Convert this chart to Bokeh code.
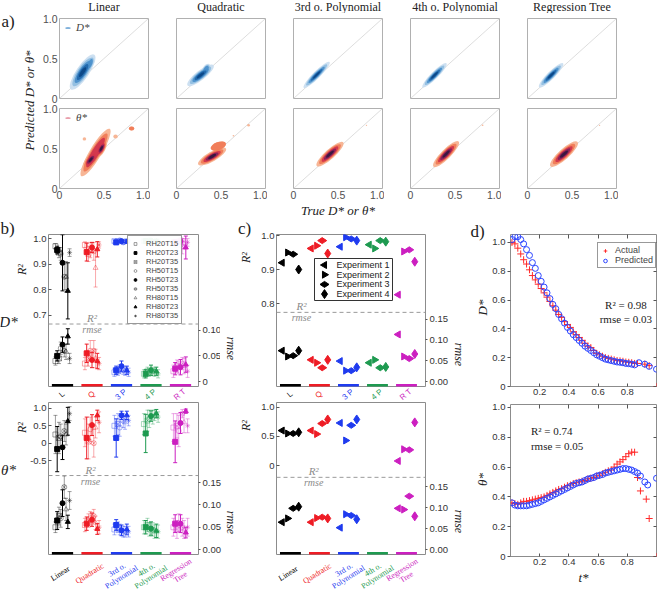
import math
import numpy as np
from bokeh.plotting import figure
from bokeh.models import (Range1d, LinearAxis, FixedTicker, Span, Legend, LegendItem,
                          ColumnDataSource)
from bokeh.layouts import row, column
from bokeh.embed import file_html
from bokeh.resources import INLINE
from bokeh.core.properties import value

SERIF = "Liberation Serif"
SANS = "Liberation Sans"

# ---------------------------------------------------------------- data
methods = ["Linear", "Quadratic", "3rd o. Polynomial", "4th o. Polynomial", "Regression Tree"]
method_short = ["L", "Q", "3 P", "4 P", "R T"]
method_long = ["Linear", "Quadratic", "3rd o.\nPolynomial", "4th o.\nPolynomial", "Regression\nTree"]
method_colors = ["#000000", "#ee1c25", "#1f3bef", "#1e9a50", "#cc1fc0"]

# panel a: density blobs (cx, cy, length, thickness, angle_deg, depth)
dstar_blobs = [
    [(0.26, 0.33, 0.47, 0.16, 56, 5), (0.34, 0.43, 0.20, 0.09, 65, 3)],
    [(0.27, 0.29, 0.37, 0.12, 38, 5), (0.33, 0.36, 0.15, 0.09, 60, 3)],
    [(0.26, 0.295, 0.41, 0.09, 45, 5)],
    [(0.27, 0.29, 0.38, 0.09, 45, 5)],
    [(0.265, 0.29, 0.38, 0.095, 45, 5)],
]
theta_blobs = [
    [(0.405, 0.45, 0.62, 0.15, 59, 3), (0.35, 0.36, 0.24, 0.11, 50, 5), (0.47, 0.50, 0.22, 0.10, 62, 5),
     (0.28, 0.62, 0.04, 0.04, 0, 1), (0.63, 0.65, 0.05, 0.05, 0, 1), (0.81, 0.75, 0.06, 0.05, 0, 2)],
    [(0.40, 0.40, 0.36, 0.12, 30, 5), (0.47, 0.53, 0.18, 0.10, 20, 2),
     (0.64, 0.66, 0.02, 0.02, 0, 1), (0.81, 0.79, 0.03, 0.03, 0, 1)],
    [(0.41, 0.43, 0.40, 0.12, 42, 5), (0.82, 0.79, 0.015, 0.015, 0, 1)],
    [(0.40, 0.43, 0.40, 0.12, 45, 5), (0.81, 0.79, 0.02, 0.02, 0, 1)],
    [(0.41, 0.43, 0.41, 0.13, 42, 5), (0.81, 0.79, 0.015, 0.015, 0, 1)],
]

# panel b: per method (rows) x condition (cols)
conditions = ["RH20T15", "RH20T23", "RH20T35", "RH50T15", "RH50T23", "RH50T35",
              "RH80T15", "RH80T23", "RH80T35"]
dstar_r2 = [
    [0.970, 0.955, 0.945, 0.940, 0.905, 0.850, 0.850, 0.795, 0.945],
    [0.975, 0.947, 0.940, 0.955, 0.965, 0.950, 0.885, 0.958, 0.975],
    [0.990, 0.985, 0.990, 0.993, 0.990, 0.985, 0.990, 0.988, 0.992],
    [0.990, 0.990, 0.992, 0.993, 0.992, 0.988, 0.990, 0.990, 0.993],
    [0.985, 0.985, 0.975, 0.990, 0.990, 0.970, 0.980, 0.965, 0.985],
]
dstar_r2_err = [
    [0.010, 0.015, 0.020, 0.025, 0.110, 0.050, 0.060, 0.110, 0.015],
    [0.012, 0.035, 0.030, 0.030, 0.020, 0.035, 0.075, 0.030, 0.012],
    [0.006, 0.008, 0.006, 0.005, 0.007, 0.008, 0.006, 0.007, 0.005],
    [0.006, 0.007, 0.005, 0.005, 0.006, 0.008, 0.006, 0.007, 0.005],
    [0.010, 0.012, 0.020, 0.010, 0.012, 0.030, 0.020, 0.045, 0.015],
]
dstar_rmse = [
    [0.040, 0.050, 0.045, 0.065, 0.072, 0.060, 0.058, 0.088, 0.045],
    [0.035, 0.055, 0.045, 0.060, 0.042, 0.060, 0.045, 0.040, 0.035],
    [0.018, 0.022, 0.020, 0.025, 0.030, 0.022, 0.020, 0.022, 0.018],
    [0.015, 0.015, 0.020, 0.018, 0.022, 0.020, 0.018, 0.020, 0.015],
    [0.020, 0.025, 0.030, 0.028, 0.028, 0.035, 0.030, 0.033, 0.020],
]
dstar_rmse_err = [
    [0.008, 0.010, 0.010, 0.012, 0.015, 0.012, 0.015, 0.015, 0.010],
    [0.012, 0.018, 0.015, 0.020, 0.015, 0.020, 0.018, 0.015, 0.012],
    [0.008, 0.008, 0.008, 0.008, 0.010, 0.008, 0.008, 0.008, 0.008],
    [0.008, 0.008, 0.008, 0.008, 0.010, 0.008, 0.008, 0.008, 0.008],
    [0.012, 0.012, 0.012, 0.012, 0.015, 0.012, 0.015, 0.015, 0.012],
]
theta_r2 = [
    [0.25, -0.17, 0.15, 0.20, -0.12, 0.35, 0.25, 0.63, 0.85],
    [0.30, 0.15, 0.05, 0.40, 0.52, 0.00, 0.45, 0.80, 0.60],
    [0.50, 0.15, 0.55, 0.45, 0.80, 0.65, 0.60, 0.80, 0.65],
    [0.55, 0.28, 0.65, 0.70, 0.78, 0.75, 0.80, 0.85, 0.75],
    [0.45, 0.04, 0.50, 0.35, 0.58, 0.85, 0.60, 0.92, 0.50],
]
theta_r2_err = [
    [0.55, 0.65, 0.45, 0.35, 0.35, 0.30, 0.30, 0.40, 0.20],
    [0.40, 0.60, 0.50, 0.35, 0.30, 0.40, 0.30, 0.15, 0.30],
    [0.30, 0.55, 0.30, 0.25, 0.12, 0.20, 0.20, 0.12, 0.15],
    [0.30, 0.55, 0.30, 0.25, 0.15, 0.20, 0.15, 0.12, 0.15],
    [0.40, 0.60, 0.35, 0.45, 0.30, 0.12, 0.30, 0.06, 0.20],
]
theta_rmse = [
    [0.050, 0.065, 0.075, 0.070, 0.104, 0.140, 0.090, 0.062, 0.110],
    [0.055, 0.058, 0.065, 0.070, 0.067, 0.075, 0.060, 0.046, 0.050],
    [0.045, 0.055, 0.050, 0.045, 0.043, 0.040, 0.040, 0.045, 0.040],
    [0.050, 0.050, 0.055, 0.045, 0.047, 0.045, 0.040, 0.042, 0.040],
    [0.050, 0.058, 0.045, 0.060, 0.058, 0.050, 0.045, 0.038, 0.050],
]
theta_rmse_err = [
    [0.012, 0.020, 0.020, 0.020, 0.030, 0.025, 0.025, 0.015, 0.020],
    [0.015, 0.015, 0.015, 0.015, 0.015, 0.015, 0.015, 0.012, 0.015],
    [0.012, 0.012, 0.012, 0.012, 0.012, 0.012, 0.012, 0.012, 0.012],
    [0.015, 0.015, 0.015, 0.015, 0.015, 0.015, 0.015, 0.015, 0.015],
    [0.020, 0.020, 0.020, 0.020, 0.020, 0.020, 0.020, 0.012, 0.020],
]

# panel c: per method (rows) x experiment (cols)
experiments = ["Experiment 1", "Experiment 2", "Experiment 3", "Experiment 4"]
exp_r2_dstar = [[0.920, 0.950, 0.945, 0.900], [0.962, 0.970, 0.985, 0.947],
                [0.967, 0.995, 0.990, 0.985], [0.973, 0.962, 0.985, 0.982],
                [0.826, 0.953, 0.958, 0.923]]
exp_rmse_dstar = [[0.074, 0.060, 0.062, 0.074], [0.052, 0.045, 0.033, 0.052],
                  [0.049, 0.026, 0.026, 0.034], [0.045, 0.052, 0.033, 0.035],
                  [0.113, 0.060, 0.055, 0.066]]
exp_r2_theta = [[0.60, 0.55, 0.55, 0.57], [0.60, 0.54, 0.72, 0.79],
                [0.73, 0.43, 0.69, 0.79], [None, None, None, None],
                [0.08, 0.28, 0.27, 0.74]]
exp_rmse_theta = [[0.065, 0.074, 0.098, 0.102], [0.065, 0.075, 0.077, 0.074],
                  [0.052, 0.084, 0.081, 0.072], [None, None, None, None],
                  [0.098, 0.095, 0.127, 0.079]]

# panel d: time series
t_grid = [0.01, 0.03, 0.05, 0.07, 0.09, 0.11, 0.13, 0.15, 0.17, 0.19, 0.21, 0.23, 0.25, 0.27,
          0.29, 0.31, 0.33, 0.35, 0.37, 0.39, 0.41, 0.43, 0.45, 0.47, 0.49, 0.51, 0.53, 0.55,
          0.57, 0.59, 0.61, 0.63, 0.65, 0.67, 0.69, 0.71, 0.73, 0.75, 0.77, 0.79, 0.81, 0.83, 0.85]
d_actual = [1.00, 0.99, 0.96, 0.92, 0.88, 0.85, 0.81, 0.77, 0.74, 0.71, 0.68, 0.65, 0.62, 0.59,
            0.56, 0.53, 0.50, 0.48, 0.45, 0.43, 0.41, 0.38, 0.36, 0.34, 0.32, 0.30, 0.28, 0.27,
            0.25, 0.23, 0.22, 0.21, 0.20, 0.195, 0.19, 0.185, 0.18, 0.178, 0.175, 0.17, 0.168,
            0.165, 0.16]
d_actual_tail_t = [0.87, 0.92, 0.95, 1.0]
d_actual_tail = [0.16, 0.155, 0.145, 0.0]
d_pred = [1.02, 1.04, 1.04, 1.02, 0.99, 0.95, 0.91, 0.86, 0.82, 0.77, 0.73, 0.69, 0.65, 0.61,
          0.57, 0.54, 0.50, 0.47, 0.44, 0.41, 0.385, 0.36, 0.34, 0.32, 0.30, 0.28, 0.265, 0.25,
          0.235, 0.22, 0.21, 0.20, 0.19, 0.185, 0.18, 0.175, 0.17, 0.168, 0.165, 0.16, 0.158,
          0.155, 0.15]
d_pred_tail_t = [0.88, 0.92, 0.95, 1.0]
d_pred_tail = [0.165, 0.155, 0.14, 0.12]
th_actual = [0.36, 0.355, 0.35, 0.36, 0.37, 0.37, 0.375, 0.38, 0.385, 0.39, 0.395, 0.40, 0.41,
             0.42, 0.43, 0.44, 0.45, 0.455, 0.465, 0.475, 0.48, 0.49, 0.495, 0.50, 0.505, 0.51,
             0.52, 0.525, 0.53, 0.54, 0.545, 0.555, 0.565, 0.575, 0.58, 0.60, 0.62, 0.635,
             0.65, 0.67, 0.69, 0.70, 0.70]
th_actual_tail_t = [0.87, 0.89, 0.93, 0.95, 1.0]
th_actual_tail = [0.53, 0.44, 0.385, 0.255, 0.0]
th_pred = [0.36, 0.345, 0.34, 0.34, 0.34, 0.34, 0.345, 0.35, 0.355, 0.36, 0.37, 0.38, 0.39,
           0.40, 0.41, 0.42, 0.43, 0.44, 0.45, 0.46, 0.47, 0.48, 0.49, 0.495, 0.50, 0.51, 0.52,
           0.525, 0.53, 0.54, 0.545, 0.55, 0.56, 0.565, 0.57, 0.575, 0.58, 0.585, 0.59, 0.59,
           0.585, 0.58, 0.57]
th_pred_tail_t = [0.87, 0.89, 0.92, 0.94, 1.0]
th_pred_tail = [0.56, 0.54, 0.50, 0.48, 0.525]

# ---------------------------------------------------------------- helpers
def lab(p, x, y, text, size, font=SERIF, style="normal", color="#222222", align="center",
        baseline="middle", angle=0.0, line_height=1.2):
    p.text(x=[x], y=[y], text=[text], text_font=value(font), text_font_size=value(f"{size}px"),
           text_font_style=style, text_color=color, text_align=align, text_baseline=baseline,
           angle=angle, text_line_height=line_height)


def style_axis(ax, ticks, labels, size="9.5px", tin=0, tout=3, standoff=2):
    ax.ticker = FixedTicker(ticks=ticks)
    ax.major_label_overrides = {t: l for t, l in zip(ticks, labels)}
    ax.axis_line_color = None
    ax.major_tick_line_color = "#555555"
    ax.major_tick_in = tin
    ax.major_tick_out = tout
    ax.minor_tick_line_color = None
    ax.major_label_text_font = SANS
    ax.major_label_text_font_size = size
    ax.major_label_text_color = "#333333"
    ax.major_label_standoff = standoff


def bare(p):
    p.axis.visible = False
    p.grid.visible = False
    p.outline_line_color = None
    return p


def text_strip(x0, x1, y0, y1):
    """A figure whose whole canvas is its frame, in page pixel units (y downwards)."""
    p = figure(frame_width=x1 - x0, frame_height=y1 - y0, x_range=Range1d(x0, x1),
               y_range=Range1d(y1, y0), output_backend="svg", toolbar_location=None,
               min_border=0, min_border_left=0, min_border_right=0, min_border_top=0,
               min_border_bottom=0)
    return bare(p)


# ---------------------------------------------------------------- panel a
level_scale = [1.0, 0.8, 0.62, 0.45, 0.28]
d_colors = ["#c9ddf0", "#8fbde1", "#4a8fcb", "#1f67ab", "#0b4585"]
t_colors = ["#f6b08d", "#f07a55", "#d0324c", "#80205a", "#34163e"]
col_left = [67, 184, 301, 418, 535]
A_FW, A_FH = 89, 80


def density_panel(col, rowi, blobs, colors, legend_text):
    first = col == 0
    p = figure(frame_width=A_FW, frame_height=A_FH, x_range=Range1d(0, 1), y_range=Range1d(0, 1),
               output_backend="svg", toolbar_location=None,
               min_border_left=23 if first else 26, min_border_right=2,
               min_border_top=5, min_border_bottom=5 if rowi == 0 else 29)
    p.grid.visible = False
    p.outline_line_color = "#b0b0b0"
    p.line(x=[0, 1], y=[0, 1], line_color="#d4d4d4", line_width=0.8)
    rends = []
    for lvl, s in enumerate(level_scale):
        comps = [c for c in blobs if c[5] > lvl]
        if not comps:
            continue
        src = ColumnDataSource(dict(
            x=[c[0] for c in comps], y=[c[1] for c in comps],
            w=[c[2] * s if c[5] > 2 else c[2] for c in comps],
            h=[c[3] * s if c[5] > 2 else c[3] for c in comps],
            a=[math.radians(c[4]) for c in comps]))
        r = p.ellipse(x="x", y="y", width="w", height="h", angle="a", source=src,
                      fill_color=colors[lvl], fill_alpha=0.92, line_color=None)
        rends.append(r)
    for ax in p.xaxis + p.yaxis:
        style_axis(ax, [0, 0.5, 1.0], ["0", "0.5", "1.0"], size="10.5px", tout=0)
        ax.major_label_text_color = "#505050"
        ax.major_tick_line_color = None
    if not first:
        p.yaxis.visible = False
    if rowi == 0:
        p.xaxis.visible = False
    if col == 2 and rowi == 1:
        ax = p.below[0]
        ax.axis_label = "True D* or θ*"
        ax.axis_label_text_font = SERIF
        ax.axis_label_text_font_style = "italic"
        ax.axis_label_text_font_size = "13px"
        ax.axis_label_text_color = "#222222"
        ax.axis_label_standoff = 1
    if first:
        leg = Legend(items=[LegendItem(label=value(legend_text), renderers=[rends[2]])],
                     location="top_left", background_fill_alpha=0, border_line_color=None,
                     label_text_font=SERIF, label_text_font_style="italic",
                     label_text_font_size="11px", glyph_width=11, glyph_height=7,
                     label_height=9, padding=0, margin=3, label_standoff=3)
        p.add_layout(leg)
    return p


a_row1 = [density_panel(i, 0, dstar_blobs[i], d_colors, "D*") for i in range(5)]
a_row2 = [density_panel(i, 1, theta_blobs[i], t_colors, "θ*") for i in range(5)]

TOP_Y = 21 + (5 + A_FH + 5) + (5 + A_FH + 29)     # page y where panels b-d start

title_strip = text_strip(8, 661, 8, 21)
for i in range(5):
    lab(title_strip, col_left[i] + A_FW / 2, 14.5, methods[i], 12)

a_strip = text_strip(8, 44, 21, TOP_Y)
lab(a_strip, 9, 29, "a)", 17, align="left")
lab(a_strip, 37, 108, "Predicted D* or θ*", 13, style="italic", angle=math.pi / 2)

# ---------------------------------------------------------------- panels b and c
centers = [1, 2, 3, 4, 5]
cond_markers = ["square", "square", "square_x", "circle", "circle", "circle_x",
                "triangle", "triangle", "asterisk"]
cond_filled = [False, True, False, False, True, False, False, True, False]
FH = 152
MID_H = 14
BOT_H = 596 - (TOP_Y + 14 + FH + 1 + MID_H + 1 + FH + 1)


def metric_frame(spec, fh, mt, mb, shell=False):
    """Panel with R² (left) and rmse (right) scales. A 'shell' has identical horizontal
    geometry (same axes, borders and x range) but invisible axes: it carries the
    category names under a panel."""
    fw, xr, r2_rng, rmse_hi, r2_ticks, r2_lbls, rmse_ticks, rmse_lbls, split, ml, mr, rlab_x = spec
    p = figure(frame_width=fw, frame_height=fh, x_range=xr, y_range=Range1d(*r2_rng),
               output_backend="svg", toolbar_location=None,
               min_border_left=ml, min_border_right=mr, min_border_top=mt, min_border_bottom=mb)
    rmse_lo = -5.0 * rmse_hi / (FH - 5)       # keeps the "0" tick label inside the canvas
    p.extra_y_ranges = {"rmse": Range1d(rmse_lo, rmse_hi)}
    ax_r = LinearAxis(y_range_name="rmse")
    p.add_layout(ax_r, "right")
    p.xaxis.visible = False
    p.grid.visible = False
    style_axis(p.left[0], r2_ticks, r2_lbls, tin=3, tout=0, standoff=2)
    style_axis(ax_r, rmse_ticks, rmse_lbls, tin=0, tout=2, standoff=2)
    if shell:
        p.outline_line_color = None
        for ax in (p.left[0], ax_r):
            ax.major_label_text_alpha = 0
            ax.major_tick_line_color = None
        return p
    p.outline_line_color = "#8c8c8c"
    p.add_layout(Span(location=split, dimension="width", line_color="#9a9a9a",
                      line_dash="4 3", line_width=1))
    lab(p, rlab_x, split, "R²", 11, style="italic", color="#8a8a8a", baseline="bottom")
    lab(p, rlab_x, split, "rmse", 10, style="italic", color="#8a8a8a", baseline="top")
    p.segment(x0=[c - 0.36 for c in centers], x1=[c + 0.36 for c in centers],
              y0=[rmse_lo] * 5, y1=[rmse_lo] * 5, y_range_name="rmse",
              line_color=method_colors, line_width=5)
    return p


def frac_y(spec, f):
    lo, hi = spec[2]
    return lo + f * (hi - lo)


def add_short_labels(strip, spec):
    for m in range(5):
        lab(strip, centers[m] - 0.02, frac_y(spec, 0.5), method_short[m], 8, font=SANS,
            color=method_colors[m], align="center", baseline="middle", angle=0.7)


def add_long_labels(strip, spec):
    for m in range(5):
        lab(strip, centers[m] - 0.08, frac_y(spec, 0.5), method_long[m], 8,
            color=method_colors[m], align="center", baseline="middle", angle=0.56,
            line_height=0.95)


def add_cond_points(p, vals, errs, yr, offs):
    rends = []
    for i in range(9):
        a = 1.0 if cond_filled[i] else 0.38
        y = np.array([vals[m][i] for m in range(5)], dtype=float)
        e = np.array([errs[m][i] for m in range(5)], dtype=float)
        src = ColumnDataSource(dict(x=[c + offs[i] for c in centers], y=y, lo=y - e, hi=y + e,
                                    c=method_colors))
        p.segment(x0="x", y0="lo", x1="x", y1="hi", line_color="c", line_alpha=a,
                  line_width=1, source=src, y_range_name=yr)
        p.scatter(x="x", y="hi", marker="dash", size=4, line_color="c", line_alpha=a,
                  source=src, y_range_name=yr)
        p.scatter(x="x", y="lo", marker="dash", size=4, line_color="c", line_alpha=a,
                  source=src, y_range_name=yr)
        r = p.scatter(x="x", y="y", marker=cond_markers[i], size=5, line_color="c",
                      fill_color="c" if cond_filled[i] else None, line_alpha=a, fill_alpha=a,
                      source=src, y_range_name=yr)
        rends.append(r)
    return rends


cond_offsets = [(i - 4) * 0.06 for i in range(9)]
exp_offsets = [(j - 1.5) * 0.19 for j in range(4)]

b_xr = Range1d(0.525, 5.61)
c_xr = Range1d(0.52, 5.655)
B_ML, B_MR = 18, 24
C_ML, C_MR = 22, 24

b_up_spec = (150, b_xr, (0.42, 1.016), 0.287, [0.7, 0.8, 0.9, 1.0], ["0.7", "0.8", "0.9", "1.0"],
             [0, 0.05, 0.10], ["0", "0.05", "0.10"], 0.665, B_ML, B_MR, 2.0)
b_lo_spec = (150, b_xr, (-3.2, 1.17), 0.330, [-0.5, 0, 0.5, 1.0], ["-0.5", "0", "0.5", "1.0"],
             [0, 0.05, 0.10, 0.15], ["0.00", "0.05", "0.10", "0.15"], -0.93, B_ML, B_MR, 1.95)
C_R2_UP = (0.556, 1.003)
c_up_spec = (149, c_xr, C_R2_UP, 0.353, [0.8, 0.9, 1.0], ["0.8", "0.9", "1.0"],
             [0, 0.05, 0.10, 0.15], ["0.00", "0.05", "0.10", "0.15"], 0.774, C_ML, C_MR, 1.38)
c_lo_spec = (149, c_xr, (-1.52, 1.08), 0.35, [0, 0.5, 1.0], ["0", "0.5", "1.0"],
             [0, 0.05, 0.10, 0.15], ["0.00", "0.05", "0.10", "0.15"], -0.2, C_ML, C_MR, 1.8)

# b upper
b_up = metric_frame(b_up_spec, FH, 14, 1)
r_b = add_cond_points(b_up, dstar_r2, dstar_r2_err, "default", cond_offsets)
add_cond_points(b_up, dstar_rmse, dstar_rmse_err, "rmse", cond_offsets)
b_up.add_layout(Legend(items=[LegendItem(label=value(conditions[i]), renderers=[r_b[i]], index=0)
                              for i in range(9)],
                       location=(79, 62), border_line_color="#333333", border_line_width=1,
                       background_fill_color="white", label_text_font=SANS,
                       label_text_font_size="7.5px", label_height=7, glyph_height=7,
                       glyph_width=8, spacing=0, padding=3, margin=0, label_standoff=7))
b_mid = metric_frame(b_up_spec, MID_H, 0, 0, shell=True)
add_short_labels(b_mid, b_up_spec)

# b lower
b_lo = metric_frame(b_lo_spec, FH, 1, 1)
add_cond_points(b_lo, theta_r2, theta_r2_err, "default", cond_offsets)
add_cond_points(b_lo, theta_rmse, theta_rmse_err, "rmse", cond_offsets)
b_bot = metric_frame(b_lo_spec, BOT_H, 0, 0, shell=True)
add_long_labels(b_bot, b_lo_spec)

# c panels
exp_markers = ["triangle", "triangle", "diamond", "diamond"]
exp_angles = [math.pi / 2, -math.pi / 2, math.pi / 2, 0.0]
exp_sizes = [7, 7, 9, 9]


def add_exp_points(p, vals, yr):
    for j in range(4):
        y = np.array([vals[m][j] for m in range(5)], dtype=float)
        src = ColumnDataSource(dict(x=[c + exp_offsets[j] for c in centers], y=y,
                                    c=method_colors))
        p.scatter(x="x", y="y", marker=exp_markers[j], angle=exp_angles[j],
                  size=exp_sizes[j], line_color="c", fill_color="c", source=src,
                  y_range_name=yr)


c_up = metric_frame(c_up_spec, FH, 14, 1)
add_exp_points(c_up, exp_r2_dstar, "default")
add_exp_points(c_up, exp_rmse_dstar, "rmse")


# experiment key (box placed in frame pixels, converted through the panel's own scales)
def fpx(px):
    return c_xr.start + px * (c_xr.end - c_xr.start) / 149


def fpy(py):
    return C_R2_UP[0] + py * (C_R2_UP[1] - C_R2_UP[0]) / FH


c_up.quad(left=fpx(38), right=fpx(116), bottom=fpy(86), top=fpy(128), fill_color="white",
          line_color="#333333", line_width=1)
key_rows = [fpy(121.5 - 9.7 * j) for j in range(4)]
for j in range(4):
    c_up.scatter(x=[fpx(48)], y=[key_rows[j]], marker=exp_markers[j], angle=exp_angles[j],
                 size=exp_sizes[j], line_color="#000000", fill_color="#000000")
c_up.text(x=[fpx(60)] * 4, y=key_rows, text=experiments, text_font=value(SANS),
          text_font_size=value("9px"), text_baseline="middle", text_align="left",
          text_color="#222222")

c_mid = metric_frame(c_up_spec, MID_H, 0, 0, shell=True)
add_short_labels(c_mid, c_up_spec)

c_lo = metric_frame(c_lo_spec, FH, 1, 1)
add_exp_points(c_lo, exp_r2_theta, "default")
add_exp_points(c_lo, exp_rmse_theta, "rmse")
c_bot = metric_frame(c_lo_spec, BOT_H, 0, 0, shell=True)
add_long_labels(c_bot, c_lo_spec)

# ---------------------------------------------------------------- panel d
def curve_panel(ta, ya, tp, yp, yr, mt, mb):
    p = figure(frame_width=146, frame_height=FH, x_range=Range1d(0, 1.0), y_range=Range1d(*yr),
               output_backend="svg", toolbar_location=None,
               min_border_left=20, min_border_right=3, min_border_top=mt, min_border_bottom=mb)
    p.grid.visible = False
    p.outline_line_color = "#8c8c8c"
    yt = [0, 0.2, 0.4, 0.6, 0.8, 1.0]
    style_axis(p.left[0], yt, ["0", "0.2", "0.4", "0.6", "0.8", "1.0"], tin=0, tout=3)
    xt = [0.2, 0.4, 0.6, 0.8]
    style_axis(p.below[0], xt, ["0.2", "0.4", "0.6", "0.8"], tin=3, tout=0)
    top = LinearAxis()
    style_axis(top, xt, ["", "", "", ""], tin=4, tout=0, standoff=0)
    top.major_label_text_font_size = "0px"
    p.add_layout(top, "above")
    right = LinearAxis()
    style_axis(right, yt, [""] * 6, tin=3, tout=0, standoff=0)
    right.major_label_text_font_size = "0px"
    p.add_layout(right, "right")
    ra = p.scatter(x=ta, y=ya, marker="cross", size=7, line_color="#ff2a2a", line_width=1)
    rp = p.scatter(x=tp, y=yp, marker="circle", size=6, line_color="#2b44ff",
                   fill_color=None, line_width=1)
    return p, ra, rp


D_BOT = 596 - (TOP_Y + 14 + FH + 14 + 4 + FH)
d_up, ra, rp = curve_panel(t_grid + d_actual_tail_t, d_actual + d_actual_tail,
                           t_grid + d_pred_tail_t, d_pred + d_pred_tail, (0, 1.055), 14, 14)
d_up.add_layout(Legend(items=[LegendItem(label=value("Actual"), renderers=[ra]),
                              LegendItem(label=value("Predicted"), renderers=[rp])],
                       location=(87, 118), border_line_color="#333333", border_line_width=1,
                       background_fill_color="white", label_text_font=SANS,
                       label_text_font_size="9px", label_height=9, glyph_height=9,
                       glyph_width=10, spacing=0, padding=2, margin=0, label_standoff=5))
lab(d_up, 0.79, 0.566, "R² = 0.98", 11)
lab(d_up, 0.79, 0.47, "rmse = 0.03", 11)

d_lo, _, _ = curve_panel(t_grid + th_actual_tail_t, th_actual + th_actual_tail,
                         t_grid + th_pred_tail_t, th_pred + th_pred_tail, (0, 1.02), 4, D_BOT)
xb = d_lo.below[0]
xb.axis_label = "t*"
xb.axis_label_text_font = SERIF
xb.axis_label_text_font_style = "italic"
xb.axis_label_text_font_size = "13px"
xb.axis_label_text_color = "#222222"
xb.axis_label_standoff = 2
lab(d_lo, 0.14, 0.84, "R² = 0.74", 11, align="left")
lab(d_lo, 0.14, 0.74, "rmse = 0.05", 11, align="left")

# ---------------------------------------------------------------- side text strips
LO_TOP = TOP_Y + 14 + FH + 1 + MID_H + 1
s1 = text_strip(8, 35, TOP_Y, 596)
lab(s1, 15, TOP_Y + 8, "b)", 17)
lab(s1, 29, TOP_Y + 49, "R²", 12, style="italic", angle=math.pi / 2)
lab(s1, 16, TOP_Y + 101, "D*", 15, style="italic")
lab(s1, 29, LO_TOP + 25, "R²", 12, style="italic", angle=math.pi / 2)
lab(s1, 16, LO_TOP + 67, "θ*", 15, style="italic")

s2 = text_strip(227, 258, TOP_Y, 596)
lab(s2, 234, TOP_Y + 128, "rmse", 12, style="italic", angle=-math.pi / 2)
lab(s2, 234, LO_TOP + 120, "rmse", 12, style="italic", angle=-math.pi / 2)
lab(s2, 248, TOP_Y + 8, "c)", 17)
lab(s2, 249, TOP_Y + 37, "R²", 12, style="italic", angle=math.pi / 2)
lab(s2, 249, LO_TOP + 23, "R²", 12, style="italic", angle=math.pi / 2)

s3 = text_strip(453, 492, TOP_Y, 596)
lab(s3, 461, TOP_Y + 134, "rmse", 12, style="italic", angle=-math.pi / 2)
lab(s3, 461, LO_TOP + 119, "rmse", 12, style="italic", angle=-math.pi / 2)
lab(s3, 480, TOP_Y + 11, "d)", 17)
lab(s3, 485, TOP_Y + 87, "D*", 13, style="italic", angle=math.pi / 2)
lab(s3, 485, LO_TOP + 77, "θ*", 13, style="italic", angle=math.pi / 2)

# ---------------------------------------------------------------- layout
top_part = column(title_strip,
                  row(a_strip, column(row(*a_row1), row(*a_row2))))
bottom_part = row(s1, column(b_up, b_mid, b_lo, b_bot),
                  s2, column(c_up, c_mid, c_lo, c_bot),
                  s3, column(d_up, d_lo))
page = column(top_part, bottom_part)

open("out.html", "w").write(file_html(page, INLINE))
